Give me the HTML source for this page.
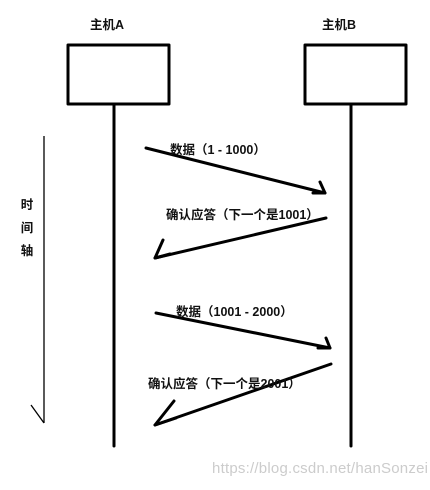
<!DOCTYPE html>
<html><head><meta charset="utf-8"><style>
body{margin:0;background:#fff;width:430px;height:485px;overflow:hidden}
svg text{font-family:"Liberation Sans","Noto Sans CJK SC",sans-serif;font-weight:bold;font-size:12.5px;fill:#111}
</style></head><body>
<svg width="430" height="485" xmlns="http://www.w3.org/2000/svg">
<g fill="none" stroke="#000" stroke-width="3" stroke-linecap="round" stroke-linejoin="round">
<rect x="68" y="45" width="101" height="59"/>
<rect x="305" y="45" width="101" height="59"/>
<line x1="114" y1="104" x2="114" y2="446"/>
<line x1="351" y1="104" x2="351" y2="446"/>
<line x1="146" y1="148" x2="325" y2="193"/>
<polyline points="320,182 325,193 313,193"/>
<line x1="326" y1="218" x2="155" y2="258"/>
<polyline points="163,240 155,258 170,254"/>
<line x1="156" y1="313" x2="330" y2="348"/>
<polyline points="326,338 330,348 318,348"/>
<line x1="331" y1="364" x2="155" y2="425"/>
<polyline points="174,401 155,425 176,418"/>
</g>
<g fill="none" stroke="#000" stroke-width="1.3">
<line x1="44" y1="136" x2="44" y2="423"/>
<line x1="31" y1="405" x2="44" y2="423"/>
</g>
<text x="107" y="29" text-anchor="middle">主机A</text>
<text x="339" y="29" text-anchor="middle">主机B</text>
<text x="27" y="209" text-anchor="middle">时</text>
<text x="27" y="232" text-anchor="middle">间</text>
<text x="27" y="255" text-anchor="middle">轴</text>
<text x="170" y="154">数据（1 - 1000）</text>
<text x="166" y="219">确认应答（下一个是1001）</text>
<text x="176" y="316">数据（1001 - 2000）</text>
<text x="148" y="388">确认应答（下一个是2001）</text>
<text x="212" y="473" textLength="216" style="font-weight:normal;font-size:15px;fill:#ccc">https://blog.csdn.net/hanSonzei</text>
</svg>
</body></html>
